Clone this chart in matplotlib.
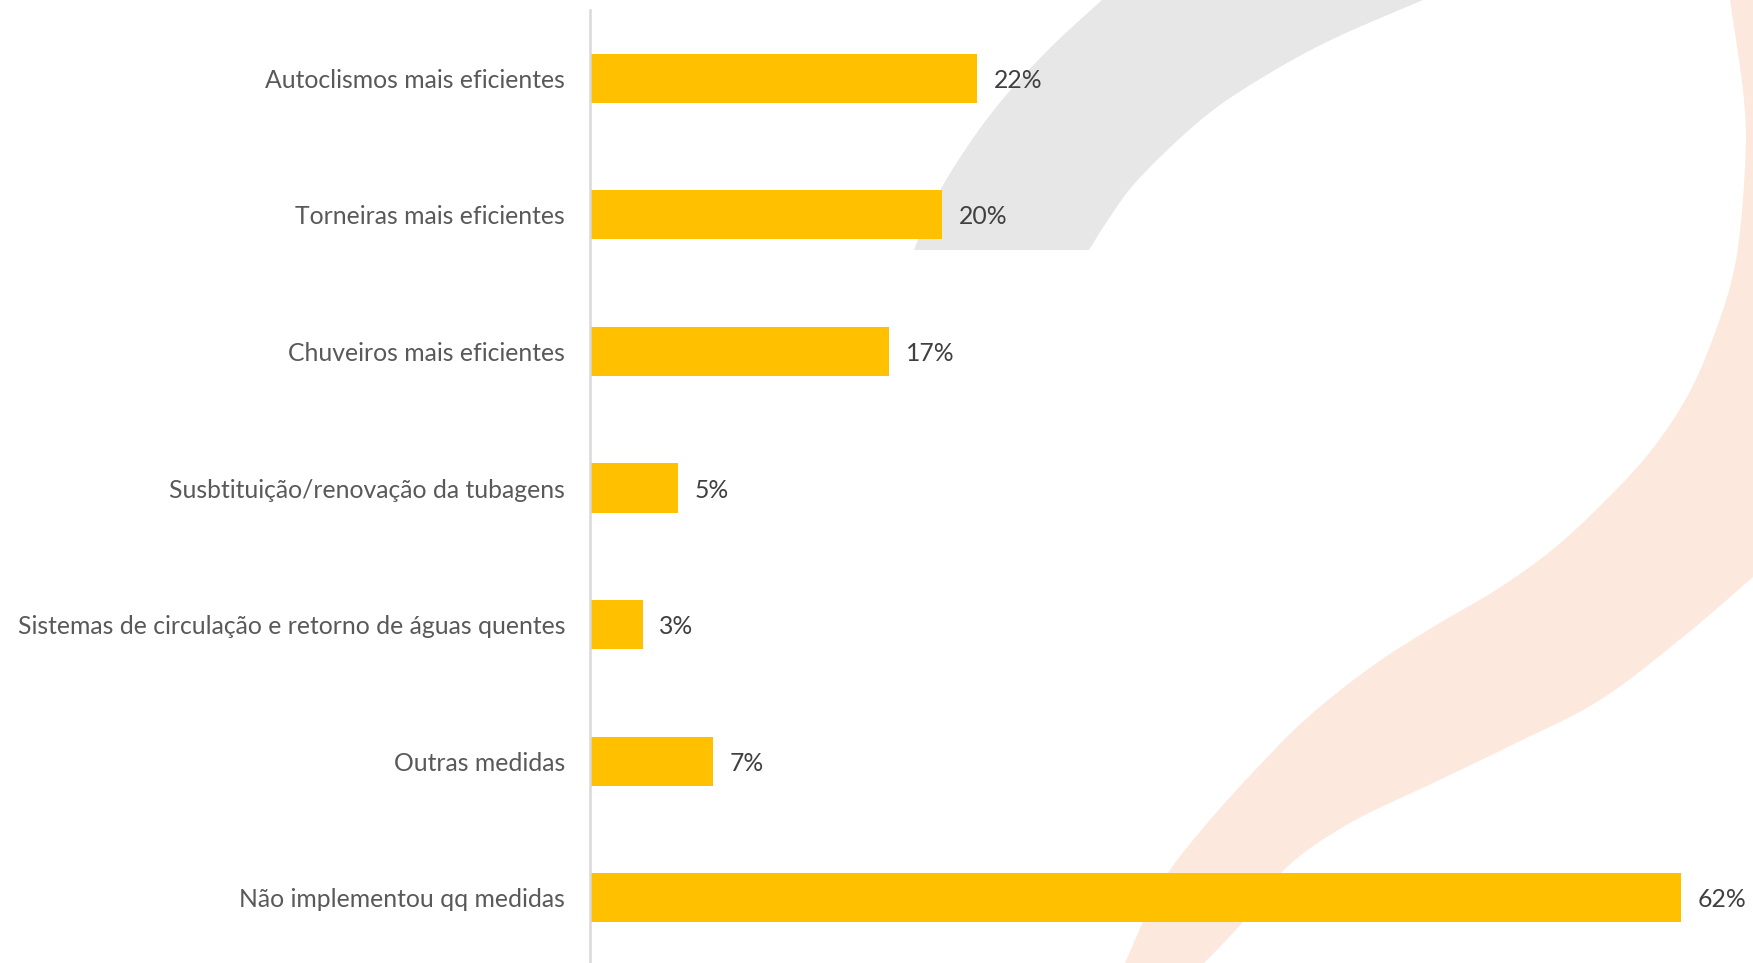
import numpy as np
import matplotlib
matplotlib.use("Agg")
import matplotlib.pyplot as plt
from matplotlib.patches import Polygon

# Medidas implementadas para poupar água (% de respostas)
medidas = [
    "Autoclismos mais eficientes",
    "Torneiras mais eficientes",
    "Chuveiros mais eficientes",
    "Susbtituição/renovação da tubagens",
    "Sistemas de circulação e retorno de águas quentes",
    "Outras medidas",
    "Não implementou qq medidas",
]
percentagens = [22, 20, 17, 5, 3, 7, 62]

COR_BARRA = "#ffc000"
COR_TEXTO = "#595959"
COR_CINZA = "#e7e7e7"
COR_PESSEGO = "#fce8dd"

W, H = 1753, 963


def suavizar(pts, n=12):
    """Curva Catmull-Rom pelos pontos dados (contorno do logotipo de fundo)."""
    pts = np.asarray(pts, float)
    p = np.vstack([pts[0], pts, pts[-1]])
    out = []
    for i in range(1, len(p) - 2):
        p0, p1, p2, p3 = p[i - 1], p[i], p[i + 1], p[i + 2]
        for t in np.linspace(0, 1, n, endpoint=False):
            t2, t3 = t * t, t * t * t
            out.append(0.5 * ((2 * p1) + (-p0 + p2) * t
                              + (2 * p0 - 5 * p1 + 4 * p2 - p3) * t2
                              + (-p0 + 3 * p1 - 3 * p2 + p3) * t3))
    out.append(pts[-1])
    return np.array(out)


fig = plt.figure(figsize=(W / 100, H / 100), dpi=100)

# camada de fundo com as faixas do logotipo
fundo = fig.add_axes([0, 0, 1, 1], zorder=0)
fundo.set_xlim(0, W)
fundo.set_ylim(H, 0)
fundo.axis("off")

cinza_esq = suavizar([(1102, 0), (1050, 48), (1002, 100), (965, 150), (935, 200), (914, 250)])
cinza_dir = suavizar([(1089, 250), (1110, 217), (1135, 183), (1178, 140), (1220, 105),
                      (1275, 70), (1335, 38), (1423, 0)])
fundo.add_patch(Polygon(np.vstack([cinza_esq, cinza_dir]), closed=True,
                        facecolor=COR_CINZA, edgecolor="none"))

pessego_int = suavizar([(1730, 0), (1744, 100), (1745, 167), (1736, 260), (1716, 330),
                        (1688, 395), (1650, 452), (1603, 503), (1552, 550), (1496, 590),
                        (1433, 627), (1371, 667), (1308, 717), (1258, 767), (1204, 827),
                        (1162, 883), (1125, 963)])
pessego_ext = suavizar([(1204, 963), (1242, 923), (1287, 867), (1350, 823), (1433, 783),
                        (1516, 743), (1600, 700), (1683, 637), (1753, 577)])
fundo.add_patch(Polygon(np.vstack([pessego_int, pessego_ext, [(1753, 0)]]), closed=True,
                        facecolor=COR_PESSEGO, edgecolor="none"))

# gráfico de barras horizontais
ax = fig.add_axes([590 / W, -3 / H, 1144 / W, 956 / H], zorder=1)
ax.patch.set_alpha(0)
y = np.arange(len(medidas))
barras = ax.barh(y, percentagens, height=0.36, color=COR_BARRA, zorder=2)
ax.set_xlim(0, 65)
ax.set_ylim(len(medidas) - 0.5, -0.5)

ax.set_yticks(y)
ax.set_yticklabels(medidas, fontsize=17.8, color=COR_TEXTO, family="Lato")
ax.tick_params(axis="y", length=0, pad=18)
ax.set_xticks([])

for lado in ["top", "right", "bottom"]:
    ax.spines[lado].set_visible(False)
ax.spines["left"].set_color("#d9d9d9")
ax.spines["left"].set_linewidth(1.8)

for b, v in zip(barras, percentagens):
    ax.annotate(f"{v}%", (b.get_width(), b.get_y() + b.get_height() / 2),
                xytext=(12, 0), textcoords="offset points",
                ha="left", va="center_baseline", fontsize=17.8, color="#404040",
                family="Lato")

fig.savefig("out.png", dpi=100)
